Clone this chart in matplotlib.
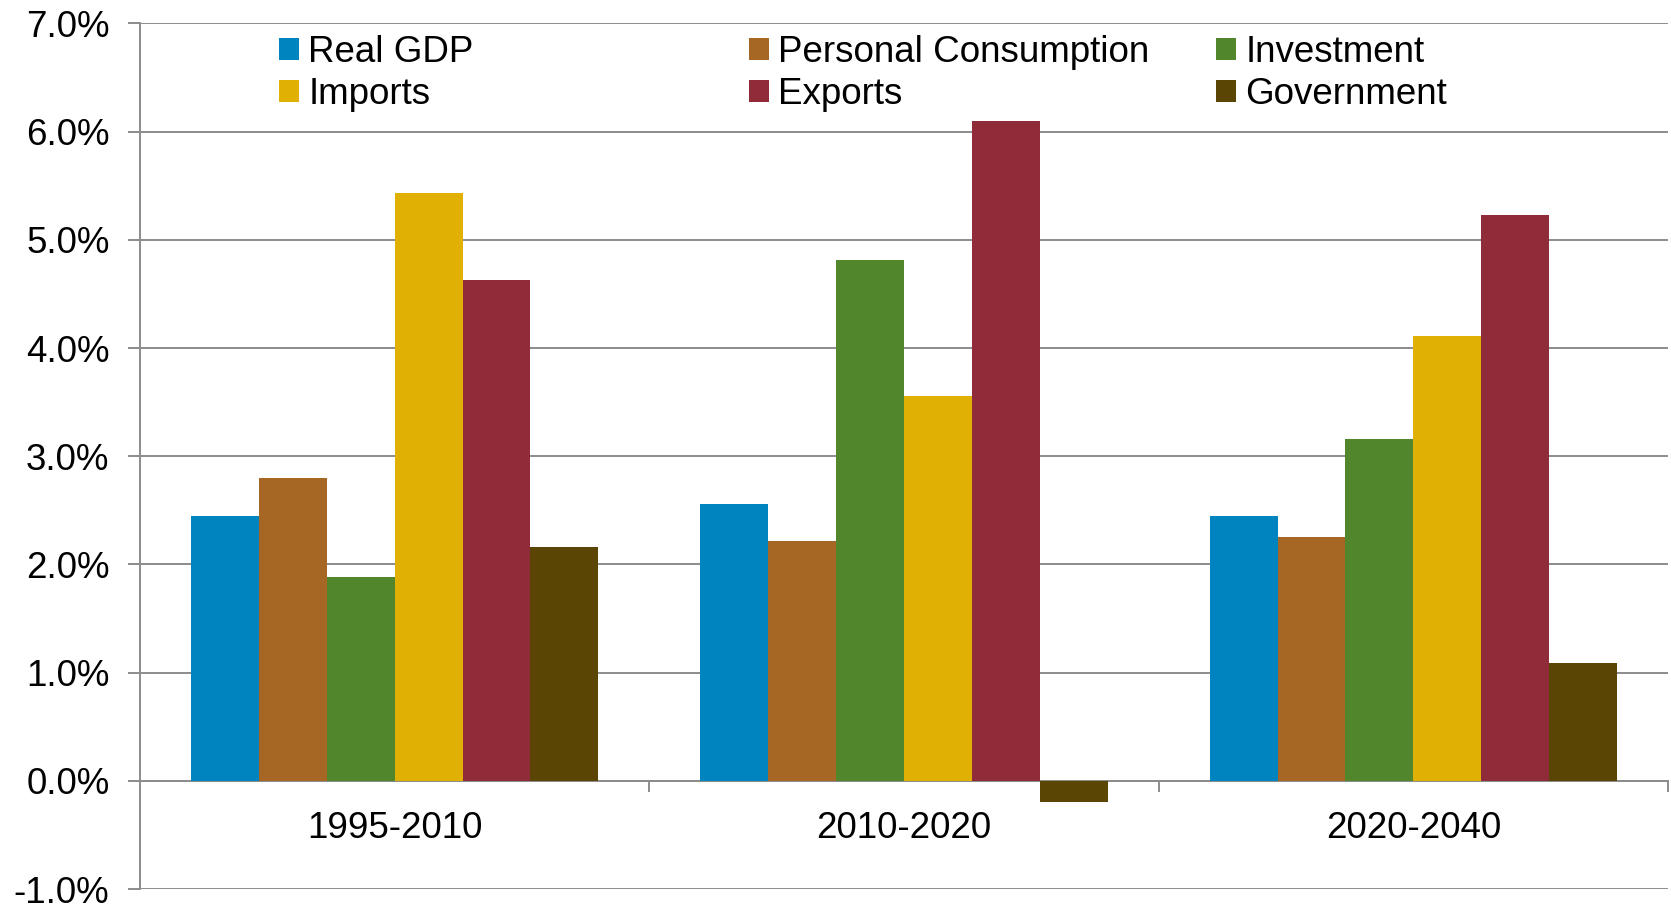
import numpy as np
import matplotlib
matplotlib.use("Agg")
import matplotlib.pyplot as plt
from matplotlib.ticker import FuncFormatter, FixedLocator

plt.rcParams['font.family'] = ['Liberation Sans', 'DejaVu Sans']

categories = ["1995-2010", "2010-2020", "2020-2040"]
series_names = ["Real GDP", "Personal Consumption", "Investment",
                "Imports", "Exports", "Government"]
real_gdp = [2.45, 2.56, 2.45]
personal_consumption = [2.80, 2.22, 2.25]
investment = [1.88, 4.81, 3.16]
imports = [5.43, 3.56, 4.11]
exports = [4.63, 6.10, 5.23]
government = [2.16, -0.20, 1.09]
series_values = [real_gdp, personal_consumption, investment, imports, exports, government]
colors = ["#0084BF", "#A66624", "#51862D", "#E1B004", "#902B3A", "#5A4505"]

W, H = 1671, 905
FS = 26.5
fig = plt.figure(figsize=(W / 100, H / 100), dpi=100)
ax = fig.add_axes([140 / W, 1 - 889 / H, (1668 - 140) / W, (889 - 23.4) / H])

n = len(series_names)
x = np.arange(len(categories))
bw = 0.8 / n
handles = []
for i, (name, vals, c) in enumerate(zip(series_names, series_values, colors)):
    b = ax.bar(x - 0.4 + bw * (i + 0.5), vals, width=bw, color=c, label=name,
               linewidth=0, zorder=3)
    handles.append(b)

ax.set_xlim(-0.5, len(categories) - 0.5)
ax.set_ylim(-1, 7)
ax.set_yticks(np.arange(-1, 8, 1))
ax.yaxis.set_major_formatter(FuncFormatter(lambda v, p: f"{v:.1f}%"))
grid_c = "#8C8C8C"
ax.grid(axis='y', color=grid_c, linewidth=1.4, zorder=1)
ax.set_axisbelow(True)

for s in ['top', 'right']:
    ax.spines[s].set_visible(False)
ax.spines['left'].set_color(grid_c)
ax.spines['left'].set_linewidth(1.4)
ax.spines['bottom'].set_position(('data', 0))
ax.spines['bottom'].set_color(grid_c)
ax.spines['bottom'].set_linewidth(1.4)
ax.spines['bottom'].set_zorder(2)

ax.set_xticks(x)
ax.set_xticklabels(categories)
ax.xaxis.set_minor_locator(FixedLocator(np.arange(0.5, len(categories), 1.0)))
ax.tick_params(axis='x', which='major', length=0, pad=22, labelsize=FS)
ax.tick_params(axis='x', which='minor', length=8, width=1.4, color=grid_c, direction='out')
ax.tick_params(axis='y', length=9, width=1.4, color=grid_c, pad=13, labelsize=FS)

legend_cols = [(0, 3), (1, 4), (2, 5)]
legend_x = [279, 749, 1216]
for (a, b), lx in zip(legend_cols, legend_x):
    leg = fig.legend([handles[a], handles[b]], [series_names[a], series_names[b]],
                     loc='center left', bbox_to_anchor=(lx / W, 1 - 73.5 / H),
                     frameon=False, fontsize=FS, handlelength=0.55, handleheight=0.55,
                     handletextpad=0.25, labelspacing=0.21, borderpad=0, borderaxespad=0)

fig.savefig("out.png", dpi=100, facecolor="white")
